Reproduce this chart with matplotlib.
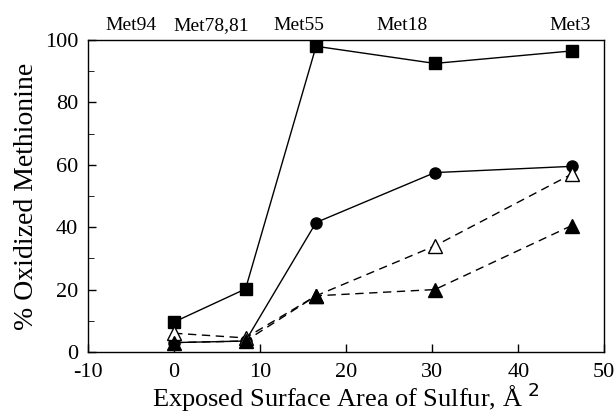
import matplotlib.pyplot as plt
import numpy as np

plt.rcParams['font.family'] = ['Liberation Serif', 'DejaVu Serif']
plt.rcParams['axes.unicode_minus'] = False

# exposed surface area of sulfur for each Met residue
area = [0, 8.3, 16.5, 30.3, 46.2]
squares = [9.6, 20.2, 98, 92.5, 96.5]
circles = [3, 3.5, 41.5, 57.5, 59.5]
open_tri = [6, 4.5, 18, 34, 57]
filled_tri = [3, 3.5, 18, 20, 40.5]

top_labels = ['Met94', 'Met78,81', 'Met55', 'Met18', 'Met3']
top_label_x = [-5, 4.3, 14.5, 26.5, 46]

fig = plt.figure(figsize=(6.16, 4.17), dpi=100)
ax = fig.add_axes([0.143, 0.156, 0.838, 0.748])

ax.plot(area, squares, '-', color='black', lw=1, marker='s', ms=9)
ax.plot(area, circles, '-', color='black', lw=1, marker='o', ms=8)
ax.plot(area, open_tri, '--', color='black', lw=1, marker='^', ms=10,
        markerfacecolor='white', dashes=(6, 4))
ax.plot(area, filled_tri, '--', color='black', lw=1, marker='^', ms=10,
        dashes=(6, 4))

ax.set_xlim(-10, 50)
ax.set_ylim(0, 100)
ax.set_xticks(np.arange(-10, 51, 10))
ax.set_yticks(np.arange(0, 101, 20))
ax.set_yticks(np.arange(0, 101, 10), minor=True)
ax.tick_params(direction='in', labelsize=16, length=6, width=1)
ax.tick_params(axis='x', pad=8)
ax.tick_params(axis='y', pad=7)
ax.tick_params(which='minor', direction='in', length=4)

for s in ax.spines.values():
    s.set_linewidth(1)

ax.set_xlabel('Exposed Surface Area of Sulfur, Å $^2$', fontsize=19, va='bottom')
ax.xaxis.set_label_coords(0.5, -0.2)
ax.set_ylabel('% Oxidized Methionine', fontsize=20)

for lx, lab in zip(top_label_x, top_labels):
    ax.text(lx, 102, lab, ha='center', va='bottom', fontsize=14)

plt.savefig('out.png', dpi=100)
